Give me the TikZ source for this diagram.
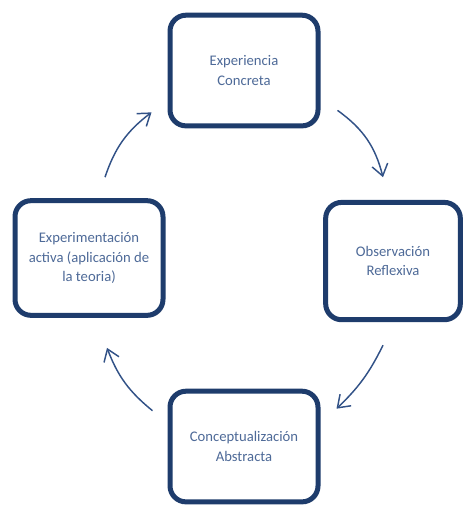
\documentclass[tikz,border=0pt]{standalone}
\usepackage{fontspec}
\setmainfont{Carlito}
\usetikzlibrary{arrows.meta, positioning, shadows}
\definecolor{boxNavy}{RGB}{30,60,108}
\definecolor{textBlue}{RGB}{78,106,152}
\definecolor{arrowBlue}{RGB}{50,82,135}
\tikzstyle{stageBox} = [draw=boxNavy, line width=3.75pt, rounded corners=12pt,
   fill=white, minimum width=111pt, minimum height=83pt,
   align=center, text=textBlue, font=\fontsize{11}{14.5}\selectfont,
   drop shadow={opacity=0.2, shadow xshift=1.5pt, shadow yshift=-1.5pt}]
\tikzstyle{cycleArrow} = [arrowBlue, line width=1.1pt,
   -{Straight Barb[length=8.5pt,width=12pt]}]

\begin{document}
\begin{tikzpicture}[on grid]
  \useasboundingbox (0,0) rectangle (347.25pt,-380.25pt);
  \node[stageBox] (exp) at (183pt,-52.9pt) {Experiencia\\Concreta};
  \node[stageBox, minimum width=101pt, minimum height=88pt,
        below right=142.9pt and 111.75pt of exp] (obs) {Observación\\Reflexiva};
  \node[stageBox, below=282pt of exp] (con) {Conceptualización\\Abstracta};
  \node[stageBox, minimum height=86pt,
        below left=140.6pt and 116.25pt of exp] (act) {Experimentación\\activa (aplicación de\\la teoria)};

  % arrows float in the gaps between the boxes
  \draw[cycleArrow] ([xshift=12.75pt,yshift=13.5pt]exp.south east)
     to[bend left=20] ([xshift=-7.5pt,yshift=17pt]obs.north);
  \draw[cycleArrow] ([xshift=-7.5pt,yshift=-17.25pt]obs.south)
     to[bend left=10] ([xshift=12pt,yshift=-15pt]con.north east);
  \draw[cycleArrow] ([xshift=-11.25pt,yshift=-16.5pt]con.north west)
     to[bend left=15] ([xshift=13.5pt,yshift=-22.5pt]act.south);
  \draw[cycleArrow] ([xshift=12pt,yshift=15.75pt]act.north)
     to[bend left=17] ([xshift=-12pt,yshift=12pt]exp.south west);
\end{tikzpicture}
\end{document}
